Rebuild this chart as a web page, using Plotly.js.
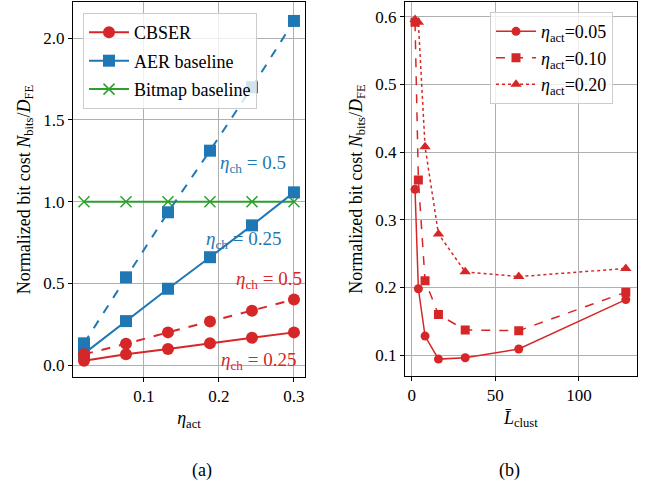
<!DOCTYPE html>
<html><head><meta charset="utf-8">
<script src="https://cdn.plot.ly/plotly-3.0.1.min.js"></script>
<style>html,body{margin:0;padding:0;background:#fff}</style>
</head><body><div id="chart" style="width:651px;height:485px"></div>
<script>
// Panel (a)
const etaAct = [0.02, 0.076, 0.132, 0.188, 0.244, 0.3];
const cbser025 = [0.026, 0.066, 0.099, 0.133, 0.167, 0.2];
const cbser05 = [0.066, 0.13, 0.2, 0.267, 0.333, 0.401];
const aer025 = [0.07, 0.269, 0.467, 0.66, 0.855, 1.057];
const aer05 = [0.133, 0.537, 0.935, 1.312, 1.70, 2.106];
const bitmap = [1, 1, 1, 1, 1, 1];
// Panel (b)
const lClust = [2, 4, 8, 16, 32, 64, 128];
const act005 = [0.345, 0.198, 0.128, 0.094, 0.096, 0.109, 0.182];
const act010 = [0.592, 0.359, 0.21, 0.16, 0.137, 0.136, 0.193];
const act020 = [0.596, 0.592, 0.408, 0.279, 0.223, 0.216, 0.228];

const RED = '#d62728', BLUE = '#1f77b4', GREEN = '#2ca02c';
const FONT = 'Liberation Serif, Times New Roman, serif';

const traces = [
  {x: etaAct, y: bitmap, mode: 'lines+markers', name: 'Bitmap baseline', legendrank: 3, legendgroup: 'g3',
   line: {color: GREEN, width: 2}, marker: {symbol: 'x-thin', size: 11, line: {color: GREEN, width: 1.5}, color: GREEN},
   xaxis: 'x', yaxis: 'y'},
  {x: etaAct, y: aer05, mode: 'lines+markers', showlegend: false,
   line: {color: BLUE, width: 2, dash: 'dash'}, marker: {symbol: 'square', size: 12, color: BLUE},
   xaxis: 'x', yaxis: 'y'},
  {x: etaAct, y: aer025, mode: 'lines+markers', name: 'AER baseline', legendrank: 2, legendgroup: 'g2',
   line: {color: BLUE, width: 2}, marker: {symbol: 'square', size: 12, color: BLUE},
   xaxis: 'x', yaxis: 'y'},
  {x: etaAct, y: cbser05, mode: 'lines+markers', showlegend: false,
   line: {color: RED, width: 2, dash: 'dash'}, marker: {symbol: 'circle', size: 12, color: RED},
   xaxis: 'x', yaxis: 'y'},
  {x: etaAct, y: cbser025, mode: 'lines+markers', name: 'CBSER', legendrank: 1, legendgroup: 'g1',
   line: {color: RED, width: 2}, marker: {symbol: 'circle', size: 12, color: RED},
   xaxis: 'x', yaxis: 'y'},
  {x: lClust, y: act005, mode: 'lines+markers', name: '<i>η</i><sub>act</sub>=0.05', legend: 'legend2',
   line: {color: RED, width: 1.5}, marker: {symbol: 'circle', size: 9, color: RED},
   xaxis: 'x2', yaxis: 'y2'},
  {x: lClust, y: act010, mode: 'lines+markers', name: '<i>η</i><sub>act</sub>=0.10', legend: 'legend2',
   line: {color: RED, width: 1.5, dash: 'dash'}, marker: {symbol: 'square', size: 9, color: RED},
   xaxis: 'x2', yaxis: 'y2'},
  {x: lClust, y: act020, mode: 'lines+markers', name: '<i>η</i><sub>act</sub>=0.20', legend: 'legend2',
   line: {color: RED, width: 1.5, dash: 'dot'}, marker: {symbol: 'triangle-up', size: 10, color: RED},
   xaxis: 'x2', yaxis: 'y2'}
];

const axisCommon = {
  showgrid: true, gridcolor: '#b0b0b0', gridwidth: 1, zeroline: false,
  showline: true, linecolor: 'black', linewidth: 1, mirror: true,
  ticks: 'outside', ticklen: 4, tickcolor: 'black',
  tickfont: {family: FONT, size: 17, color: 'black'}
};
const yTitle = 'Normalized bit cost <i>N</i><sub>bits</sub>/<i>D</i><sub>FE</sub>';

const annFont = (c) => ({family: FONT, size: 19, color: c});

const layout = {
  width: 651, height: 485,
  margin: {l: 0, r: 0, t: 0, b: 0},
  paper_bgcolor: 'white', plot_bgcolor: 'white',
  font: {family: FONT, size: 18, color: 'black'},
  xaxis: Object.assign({}, axisCommon, {domain: [0.1121, 0.4685], range: [0.0053, 0.3147],
    tickvals: [0.1, 0.2, 0.3], ticktext: ['0.1', '0.2', '0.3'], anchor: 'y',
    title: {text: '<i>η</i><sub>act</sub>', font: {family: FONT, size: 18}, standoff: 6}}),
  yaxis: Object.assign({}, axisCommon, {domain: [0.2227, 0.9959], range: [-0.073, 2.222],
    tickvals: [0, 0.5, 1, 1.5, 2], ticktext: ['0.0', '0.5', '1.0', '1.5', '2.0'], anchor: 'x',
    title: {text: yTitle, font: {family: FONT, size: 18}, standoff: 8}}),
  xaxis2: Object.assign({}, axisCommon, {domain: [0.6221, 0.978], range: [-4.0, 134.5],
    tickvals: [0, 50, 100], anchor: 'y2',
    title: {text: '<i>L̄</i><sub>clust</sub>', font: {family: FONT, size: 18}, standoff: 6}}),
  yaxis2: Object.assign({}, axisCommon, {domain: [0.2247, 0.9959], range: [0.069, 0.622],
    tickvals: [0.1, 0.2, 0.3, 0.4, 0.5, 0.6], ticktext: ['0.1', '0.2', '0.3', '0.4', '0.5', '0.6'], anchor: 'x2',
    title: {text: yTitle, font: {family: FONT, size: 18}, standoff: 8}}),
  legend: {x: 0.1275, y: 0.973, xanchor: 'left', yanchor: 'top', bgcolor: 'rgba(255,255,255,0.8)',
    bordercolor: '#cccccc', borderwidth: 1, font: {family: FONT, size: 18}, itemwidth: 40,
    traceorder: 'grouped', tracegroupgap: 2},
  legend2: {x: 0.7527, y: 0.975, xanchor: 'left', yanchor: 'top', bgcolor: 'rgba(255,255,255,0.8)',
    bordercolor: '#cccccc', borderwidth: 1, font: {family: FONT, size: 18}, itemwidth: 40,
    traceorder: 'normal'},
  annotations: [
    {xref: 'x', yref: 'y', x: 0.246, y: 1.23, text: '<i>η</i><sub>ch</sub> = 0.5', showarrow: false, font: annFont(BLUE)},
    {xref: 'x', yref: 'y', x: 0.2333, y: 0.768, text: '<i>η</i><sub>ch</sub> = 0.25', showarrow: false, font: annFont(BLUE)},
    {xref: 'x', yref: 'y', x: 0.2673, y: 0.523, text: '<i>η</i><sub>ch</sub> = 0.5', showarrow: false, font: annFont(RED)},
    {xref: 'x', yref: 'y', x: 0.2533, y: 0.0275, text: '<i>η</i><sub>ch</sub> = 0.25', showarrow: false, font: annFont(RED)},
    {xref: 'paper', yref: 'paper', x: 190/651, y: 1 - 470/485, yanchor: 'middle', text: '(a)', showarrow: false, font: {family: FONT, size: 18}},
    {xref: 'paper', yref: 'paper', x: 522/651, y: 1 - 470/485, yanchor: 'middle', text: '(b)', showarrow: false, font: {family: FONT, size: 18}}
  ]
};

Plotly.newPlot('chart', traces, layout, {displayModeBar: false, staticPlot: true});
</script></body></html>
